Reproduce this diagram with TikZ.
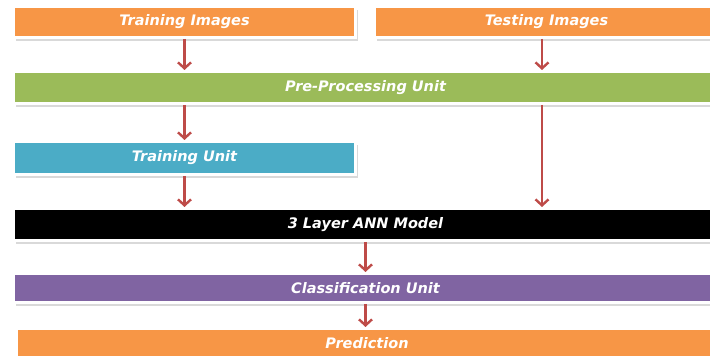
\documentclass[tikz,border=0pt]{standalone}
\usepackage{fontspec}
\setmainfont{DejaVu Sans}
\usetikzlibrary{arrows.meta,shadows}
\definecolor{boxorange}{HTML}{F79646}
\definecolor{boxgreen}{HTML}{9BBB59}
\definecolor{boxblue}{HTML}{4BACC6}
\definecolor{boxpurple}{HTML}{8064A2}
\definecolor{arrred}{HTML}{BE4B48}
\tikzset{
  bar/.style={rectangle, draw=white, line width=3pt, inner sep=0pt,
    text=white, font=\bfseries\itshape\fontsize{14.5}{17}\selectfont,
    drop shadow={shadow xshift=2.5pt, shadow yshift=-3.5pt, opacity=0.3}},
  arr/.style={draw=arrred, line width=2.4pt,
    -{Straight Barb[length=6pt,width=13pt,line width=2.4pt]}}
}
\begin{document}
\begin{tikzpicture}[x=1pt,y=1pt]
\useasboundingbox (0,0) rectangle (710,356);
\node[bar, fill=boxorange, minimum width=342pt, minimum height=31pt] (ti) at (184.5,334) {Training Images};
\node[bar, fill=boxorange, minimum width=344pt, minimum height=31pt] (te) at (546.5,334) {Testing Images};
\node[bar, fill=boxgreen, minimum width=704pt, minimum height=32pt] (pp) at (365.5,268.5) {Pre-Processing Unit};
\node[bar, fill=boxblue, minimum width=342pt, minimum height=33pt] (tu) at (184.5,198) {Training Unit};
\node[bar, fill=black, minimum width=704pt, minimum height=32pt] (ann) at (365.5,131.5) {3 Layer ANN Model};
\node[bar, fill=boxpurple, minimum width=704pt, minimum height=29pt] (cu) at (365.5,68) {Classification Unit};
\node[bar, fill=boxorange, minimum width=702pt, minimum height=30pt] (pr) at (367,12.5) {Prediction};
\coordinate (tx) at ([xshift=-4.5pt]te.south);
\draw[arr] (ti.south) -- (ti.south |- pp.north);
\draw[arr] (tx) -- (tx |- pp.north);
\draw[arr] (pp.south -| ti.south) -- (tu.north);
\draw[arr] (tu.south) -- (tu.south |- ann.north);
\draw[arr] (pp.south -| tx) -- (ann.north -| tx);
\draw[arr] (ann.south) -- (cu.north);
\draw[arr] (cu.south) -- (cu.south |- pr.north);
\end{tikzpicture}
\end{document}
